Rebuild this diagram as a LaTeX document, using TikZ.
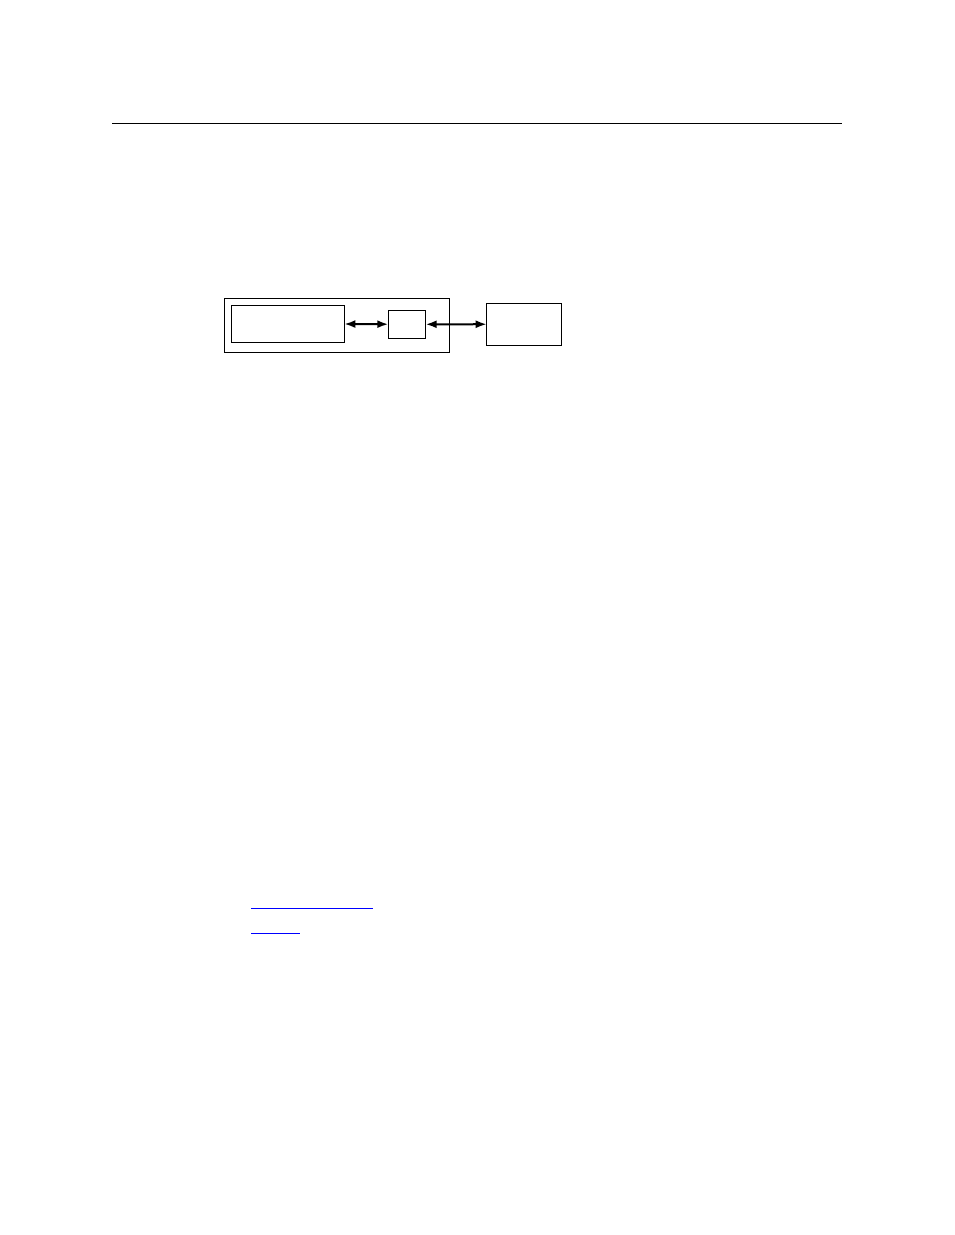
\documentclass[tikz,border=0pt]{standalone}
\usepackage{tikz}
\usetikzlibrary{arrows.meta}

\tikzset{
  box/.style={draw, line width=1pt, inner sep=0pt, outer sep=0pt},
  link/.style={line width=2pt, {Latex[length=11pt,width=8pt]}-{Latex[length=11pt,width=8pt]}},
  weblink/.style={draw=blue, line width=1pt}
}

\begin{document}
\begin{tikzpicture}[x=1pt,y=-1pt]
  \useasboundingbox (0,0) rectangle (954,1235);
  \draw[line width=1pt] (112,123.3) -- (842,123.3);
  \node[box, minimum width=225pt, minimum height=54pt] (unit) at (336.8,325.3) {};
  \node[box, minimum width=113.3pt, minimum height=37.3pt] (app) at (287.7,323.7) {};
  \node[box, minimum width=37.4pt, minimum height=28pt] (port) at (407,324.3) {};
  \node[box, minimum width=75pt, minimum height=41.7pt] (device) at (524.2,324.2) {};
  \draw[link] (app) -- (port);
  \draw[link] (port) -- (device);
  \draw[weblink] (251,908.3) -- (372.7,908.3);
  \draw[weblink] (251,933.3) -- (300,933.3);
\end{tikzpicture}
\end{document}
